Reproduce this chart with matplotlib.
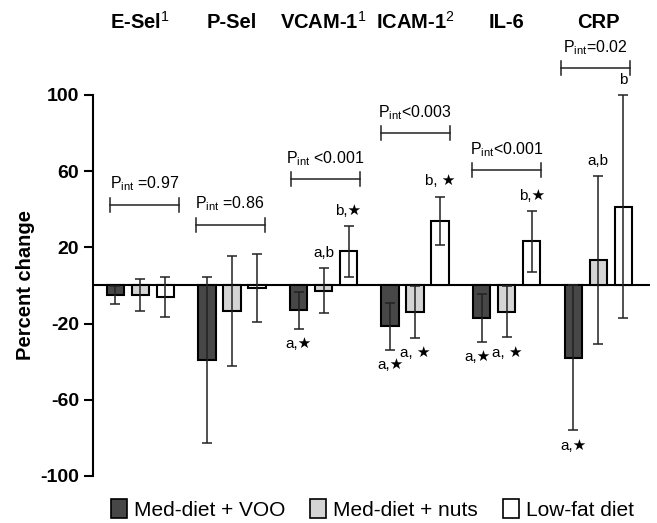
import numpy as np
import matplotlib
matplotlib.use("Agg")
import matplotlib.pyplot as plt
from matplotlib.patches import Patch

plt.rcParams['font.family'] = ['Liberation Sans', 'DejaVu Sans']
plt.rcParams['mathtext.fontset'] = 'custom'
plt.rcParams['mathtext.rm'] = 'Liberation Sans'
plt.rcParams['mathtext.bf'] = 'Liberation Sans:bold'
plt.rcParams['axes.unicode_minus'] = False

# data
headers = [r'E-Sel$\mathrm{^{1}}$', 'P-Sel', r'VCAM-1$\mathrm{^{1}}$',
           r'ICAM-1$\mathrm{^{2}}$', 'IL-6', 'CRP']
series = ['Med-diet + VOO', 'Med-diet + nuts', 'Low-fat diet']
voo_mean = [-5, -39, -13, -21.5, -17, -38]
voo_err = [4.5, 43.5, 9.6, 12.3, 12.5, 38]
nuts_mean = [-5, -13.5, -2.7, -14, -13.8, 13.5]
nuts_err = [8.3, 29, 12, 13.7, 13.4, 44]
lowfat_mean = [-6, -1.3, 18, 34, 23.2, 41.4]
lowfat_err = [10.3, 17.8, 13.3, 12.7, 16, 58.6]
p_int = [' =0.97', ' =0.86', ' <0.001', '<0.003', '<0.001', '=0.02']
bracket_y = [42.3, 31.8, 55.9, 79.9, 60.6, 114]
bracket_shift = [0.05, -0.02, 0.02, 0.0, 0.0, -0.035]
# (group, series index, label, above?)
letters = [
    (2, 0, 'a,★', False), (2, 1, 'a,b', True), (2, 2, 'b,★', True),
    (3, 0, 'a,★', False), (3, 1, 'a, ★', False), (3, 2, 'b, ★', True),
    (4, 0, 'a,★', False), (4, 1, 'a, ★', False), (4, 2, 'b,★', True),
    (5, 0, 'a,★', False), (5, 1, 'a,b', True), (5, 2, 'b', True),
]

colors = ['#474747', '#d4d4d4', 'white']
means = [voo_mean, nuts_mean, lowfat_mean]
errs = [voo_err, nuts_err, lowfat_err]

fig = plt.figure(figsize=(6.57, 5.23), dpi=100)
ax = fig.add_axes([0.1416, 0.0899, 0.8478, 0.7285])

x = np.arange(len(headers))
off = 0.273
w = 0.19
for i in range(3):
    xs = x + (i - 1) * off
    ax.bar(xs, means[i], width=w, color=colors[i], edgecolor='black',
           linewidth=1.5, zorder=2, clip_on=False)
    ax.errorbar(xs, means[i], yerr=errs[i], fmt='none', ecolor='#222222',
                elinewidth=1.1, capsize=3.5, capthick=1.1, zorder=3,
                clip_on=False)

ax.axhline(0, color='black', lw=1.5, zorder=1)

for g in range(len(headers)):
    ax.text(x[g], 138.3, headers[g], ha='center', va='center',
            fontsize=14.5, fontweight='bold')
    cx = x[g] + bracket_shift[g]
    x0, x1 = cx - 0.377, cx + 0.377
    by = bracket_y[g]
    ax.plot([x0, x1], [by, by], color='#222222', lw=1.1, clip_on=False)
    ax.plot([x0, x0], [by - 3.7, by + 3.7], color='#222222', lw=1.1, clip_on=False)
    ax.plot([x1, x1], [by - 3.7, by + 3.7], color='#222222', lw=1.1, clip_on=False)
    ax.text(cx, by + 6, r'$\mathrm{P_{int}}$' + p_int[g], ha='center',
            va='bottom', fontsize=11.5)

for g, s, lab, above in letters:
    xs = x[g] + (s - 1) * off
    if above:
        y = means[s][g] + errs[s][g] + 8
    else:
        y = means[s][g] - errs[s][g] - 8
    if g == 4 and s == 0:
        xs -= 0.05
    ax.text(xs, y, lab, ha='center', va='center', fontsize=11)

ax.set_xlim(-0.516, 5.564)
ax.set_ylim(-100, 100)
ax.set_yticks([100, 60, 20, -20, -60, -100])
ax.set_xticks([])
for sp in ['top', 'right', 'bottom']:
    ax.spines[sp].set_visible(False)
ax.spines['left'].set_linewidth(1.5)
ax.tick_params(axis='y', length=6.5, width=1.5, labelsize=14)
for t in ax.get_yticklabels():
    t.set_fontweight('bold')
ax.set_ylabel('Percent change', fontsize=14.5, fontweight='bold', labelpad=4)

handles = [Patch(facecolor=colors[i], edgecolor='black', linewidth=1.2)
           for i in range(3)]
fig.legend(handles, series, loc='center', bbox_to_anchor=(0.567, 0.026),
           ncol=3, frameon=False, fontsize=15, handlelength=0.75,
           handleheight=1.0, handletextpad=0.35, columnspacing=1.2)

fig.savefig('out.png', dpi=100)
